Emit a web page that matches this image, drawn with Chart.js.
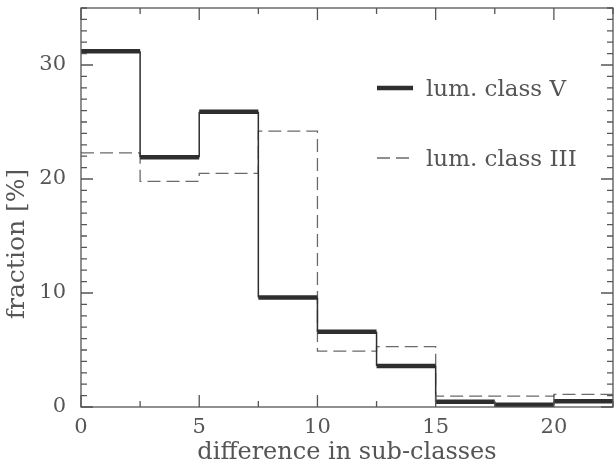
<!DOCTYPE html>
<html>
<head>
<meta charset="utf-8">
<script src="https://cdn.jsdelivr.net/npm/chart.js@4/dist/chart.umd.min.js"></script>
<style>
  html, body { margin: 0; padding: 0; background: #fff; }
  canvas { display: block; }
</style>
</head>
<body>
<canvas id="hist" width="614" height="461" style="width:614px;height:461px"></canvas>
<script>
// bin edges (difference in sub-classes) and fractions in %
const binEdges = [0, 2.5, 5, 7.5, 10, 12.5, 15, 17.5, 20, 22.5];
const classV   = [31.2, 21.9, 25.9, 9.6, 6.6, 3.6, 0.45, 0.2, 0.5];
const classIII = [22.3, 19.8, 20.5, 24.2, 4.9, 5.3, 0.95, 0.95, 1.1];
const xTickLabels = [0, 5, 10, 15, 20];
const yTickLabels = [0, 10, 20, 30];

const FONT = "'DejaVu Serif', serif";
const INK = "#555";

// histogram outline: one horizontal run per bin
function steps(vals) {
  const pts = [];
  vals.forEach((v, i) => {
    pts.push({ x: binEdges[i], y: v }, { x: binEdges[i + 1], y: v });
  });
  return pts;
}

// drop the extra room chart.js keeps for edge labels
function noPad(s) {
  s.paddingTop = 0; s.paddingBottom = 0; s.paddingLeft = 0; s.paddingRight = 0;
}

const frameTicks = {
  id: "frameTicks",
  afterDatasetsDraw(chart) {
    const { ctx, chartArea: a, scales: { x, y } } = chart;
    ctx.save();
    ctx.strokeStyle = INK;
    ctx.lineWidth = 1.3;
    ctx.strokeRect(a.left, a.top, a.right - a.left, a.bottom - a.top);
    ctx.beginPath();
    for (let v = 0; v <= x.max + 0.01; v += 2.5) {
      const px = x.getPixelForValue(v);
      const len = v % 5 === 0 ? 12 : 6;
      ctx.moveTo(px, a.bottom); ctx.lineTo(px, a.bottom - len);
      ctx.moveTo(px, a.top); ctx.lineTo(px, a.top + len);
    }
    for (let v = 0; v <= y.max; v += 1) {
      const py = y.getPixelForValue(v);
      const len = v % 10 === 0 ? 12 : 6;
      ctx.moveTo(a.left, py); ctx.lineTo(a.left + len, py);
      ctx.moveTo(a.right, py); ctx.lineTo(a.right - len, py);
    }
    ctx.stroke();

    // y title
    ctx.fillStyle = INK;
    ctx.font = "25px " + FONT;
    ctx.textAlign = "center";
    ctx.textBaseline = "middle";
    ctx.translate(17, 244);
    ctx.rotate(-Math.PI / 2);
    ctx.fillText("fraction [%]", 0, 0);
    ctx.restore();

    // legend
    ctx.save();
    ctx.font = "23px " + FONT;
    ctx.textBaseline = "middle";
    ctx.fillStyle = INK;
    chart.data.datasets.forEach((ds, i) => {
      const ly = 88 + i * 70;
      ctx.beginPath();
      ctx.strokeStyle = ds.borderColor;
      ctx.lineWidth = ds.legendWidth;
      ctx.setLineDash(ds.borderDash || []);
      ctx.moveTo(377, ly); ctx.lineTo(413, ly);
      ctx.stroke();
      ctx.setLineDash([]);
      ctx.fillText(ds.label, 426, ly + 2);
    });
    ctx.restore();
  }
};

new Chart(document.getElementById("hist"), {
  type: "line",
  data: {
    datasets: [
      {
        label: "lum. class V",
        data: steps(classV),
        borderColor: "#2e2e2e",
        borderWidth: 4,
        legendWidth: 4.5,
        segment: {
          borderWidth: c => (c.p0.parsed.y === c.p1.parsed.y ? 4.5 : 1.5)
        },
        pointRadius: 0,
        tension: 0
      },
      {
        label: "lum. class III",
        data: steps(classIII),
        borderColor: "#6a6a6a",
        borderWidth: 1.3,
        legendWidth: 1.3,
        borderDash: [13, 6],
        pointRadius: 0,
        tension: 0
      }
    ]
  },
  options: {
    responsive: false,
    devicePixelRatio: 1,
    animation: false,
    layout: { padding: { top: 8, right: 1, left: 0, bottom: 0 } },
    plugins: { legend: { display: false }, tooltip: { enabled: false } },
    scales: {
      x: {
        type: "linear",
        min: 0,
        max: 22.5,
        afterBuildTicks: s => { s.ticks = xTickLabels.map(v => ({ value: v })); },
        afterFit: s => { s.height = 54; noPad(s); },
        grid: { display: false },
        border: { display: false },
        ticks: { color: INK, font: { family: FONT, size: 21 }, padding: 0, maxRotation: 0 },
        title: {
          display: true,
          text: "difference in sub-classes",
          color: INK,
          font: { family: FONT, size: 24 },
          padding: { top: 0, bottom: -6 }
        }
      },
      y: {
        min: 0,
        max: 35,
        afterBuildTicks: s => { s.ticks = yTickLabels.map(v => ({ value: v })); },
        afterFit: s => { s.width = 81; noPad(s); },
        grid: { display: false },
        border: { display: false },
        ticks: { color: INK, font: { family: FONT, size: 21 }, padding: 7 }
      }
    }
  },
  plugins: [frameTicks]
});
</script>
</body>
</html>
